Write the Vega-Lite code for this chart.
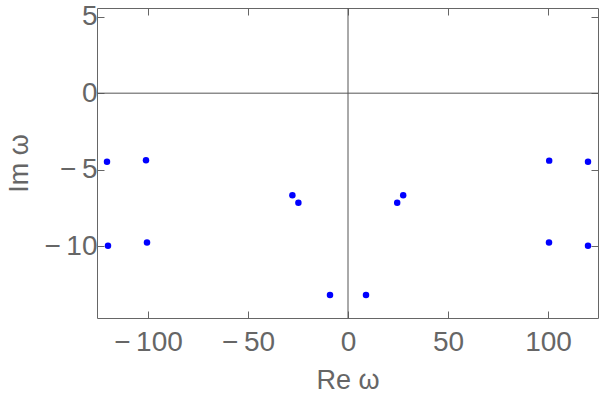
{
  "$schema": "https://vega.github.io/schema/vega-lite/v6.json",
  "width": 501,
  "height": 310,
  "autosize": {"type": "none"},
  "padding": {"left": 97, "top": 8, "right": 2, "bottom": 80},
  "background": "white",
  "config": {
    "view": {"stroke": null},
    "axis": {
      "labelFont": "Liberation Sans",
      "titleFont": "Liberation Sans",
      "labelFontSize": 28,
      "titleFontSize": 27,
      "labelColor": "#666666",
      "titleColor": "#666666",
      "titleFontWeight": "normal",
      "domainColor": "#666666",
      "tickColor": "#666666",
      "grid": false
    }
  },
  "datasets": {
    "poles": [
      {"re": -120.5, "im": -4.48},
      {"re": -101, "im": -4.39},
      {"re": -120, "im": -9.98},
      {"re": -100.5, "im": -9.76},
      {"re": -27.8, "im": -6.68},
      {"re": -24.8, "im": -7.16},
      {"re": -9, "im": -13.19},
      {"re": 9, "im": -13.19},
      {"re": 24.6, "im": -7.16},
      {"re": 27.6, "im": -6.68},
      {"re": 100.6, "im": -4.41},
      {"re": 120, "im": -4.48},
      {"re": 100.5, "im": -9.76},
      {"re": 120, "im": -9.98}
    ],
    "zero": [{"v": 0}]
  },
  "layer": [
    {
      "data": {"name": "zero"},
      "mark": {"type": "rule", "color": "#555555", "strokeWidth": 1},
      "encoding": {
        "x": {"field": "v", "type": "quantitative", "scale": {"domain": [-125.5, 125], "nice": false, "zero": false},
          "axis": {"orient": "bottom", "values": [-100, -50, 0, 50, 100], "tickSize": -7, "labelPadding": 17, "title": "Re ω", "titlePadding": 11,
            "labelExpr": "datum.value < 0 ? '−\u2009' + format(-datum.value, 'd') : format(datum.value, 'd')"}}
      }
    },
    {
      "data": {"name": "zero"},
      "mark": {"type": "rule", "color": "#555555", "strokeWidth": 1},
      "encoding": {
        "y": {"field": "v", "type": "quantitative", "scale": {"domain": [-14.7, 5.57], "nice": false, "zero": false},
          "axis": {"orient": "left", "values": [-10, -5, 0, 5], "tickSize": -7, "labelPadding": 7, "title": "Im ω", "titlePadding": 10,
            "labelExpr": "datum.value < 0 ? '−\u2009' + format(-datum.value, 'd') : format(datum.value, 'd')"}}
      }
    },
    {
      "data": {"name": "poles"},
      "mark": {"type": "point", "filled": true, "color": "#0000ff", "opacity": 1, "size": 42},
      "encoding": {
        "x": {"field": "re", "type": "quantitative", "axis": null},
        "y": {"field": "im", "type": "quantitative", "axis": null}
      }
    },
    {
      "data": {"name": "zero"},
      "mark": {"type": "rule", "opacity": 0},
      "encoding": {
        "x": {"field": "v", "type": "quantitative",
          "axis": {"orient": "top", "values": [-100, -50, 0, 50, 100], "tickSize": -7, "labels": false, "title": null}},
        "y": {"field": "v", "type": "quantitative",
          "axis": {"orient": "right", "values": [-10, -5, 0, 5], "tickSize": -7, "labels": false, "title": null}}
      }
    }
  ],
  "resolve": {"axis": {"x": "independent", "y": "independent"}}
}
